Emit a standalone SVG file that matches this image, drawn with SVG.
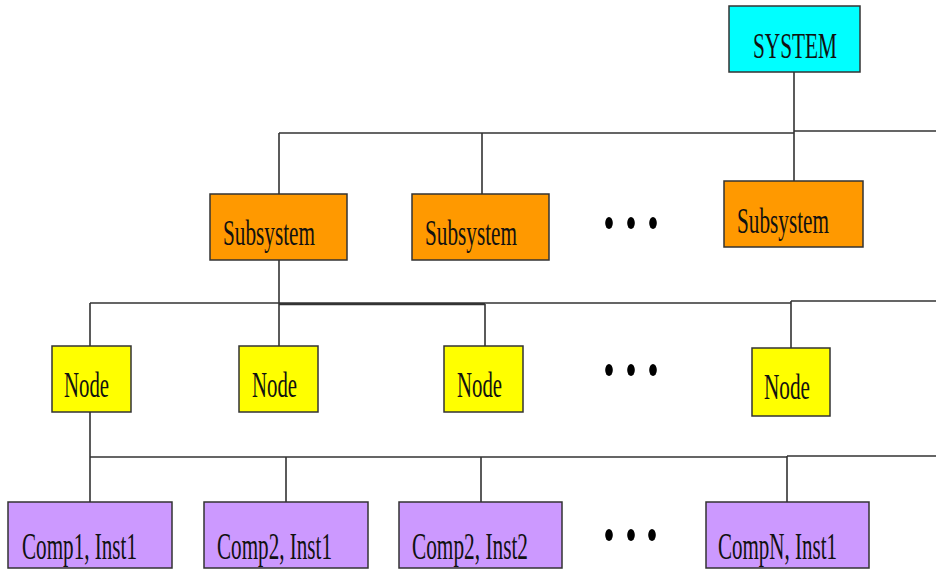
<svg xmlns="http://www.w3.org/2000/svg" width="936" height="569" viewBox="0 0 936 569">
  <style>
    .box { stroke: #333; stroke-width: 1.5; }
    .sys { fill: #00ffff; }
    .sub { fill: #ff9900; }
    .node { fill: #ffff00; }
    .comp { fill: #cc99ff; }
    .lbl { font-family: "Liberation Serif", "Times New Roman", serif; fill: #111; }
    .wire { stroke: #333; stroke-width: 1.6; fill: none; }
    .dot { fill: #000; }
  </style>
  <rect width="936" height="569" fill="#fff"/>

  <!-- connectors -->
  <g id="connectors">
    <path class="wire" d="M794 72 V131 M279 133 H794 M794 131 H936"/>
    <path class="wire" d="M279 133 V194 M482 133 V194 M794 131 V181"/>
    <path class="wire" d="M279 260 V304"/>
    <path class="wire" d="M90 303 H791 M279 304.5 H485 M791 301 H936"/>
    <path class="wire" d="M90 303 V346 M279 304 V346 M485 304 V346 M791 301 V348"/>
    <path class="wire" d="M90 412 V502 M90 457 H787 M787 456 H936"/>
    <path class="wire" d="M286 457 V502 M481 457 V502 M787 456 V502"/>
  </g>

  <!-- top level -->
  <g id="system">
    <rect class="box sys" x="729" y="6" width="131" height="66"/>
    <text class="lbl" x="753" y="58" font-size="35" textLength="84" lengthAdjust="spacingAndGlyphs">SYSTEM</text>
  </g>

  <!-- subsystems -->
  <g id="subsystem-1">
    <rect class="box sub" x="210" y="194" width="137" height="66"/>
    <text class="lbl" x="223" y="245" font-size="35" textLength="92" lengthAdjust="spacingAndGlyphs">Subsystem</text>
  </g>
  <g id="subsystem-2">
    <rect class="box sub" x="412" y="194" width="137" height="66"/>
    <text class="lbl" x="425" y="245" font-size="35" textLength="92" lengthAdjust="spacingAndGlyphs">Subsystem</text>
  </g>
  <g id="subsystem-n">
    <rect class="box sub" x="724" y="181" width="139" height="66"/>
    <text class="lbl" x="737" y="233" font-size="35" textLength="92" lengthAdjust="spacingAndGlyphs">Subsystem</text>
  </g>
  <g id="subsystem-ellipsis">
    <ellipse class="dot" cx="609" cy="223" rx="3.8" ry="6"/>
    <ellipse class="dot" cx="631" cy="223" rx="3.8" ry="6"/>
    <ellipse class="dot" cx="653" cy="223" rx="3.8" ry="6"/>
  </g>

  <!-- nodes -->
  <g id="node-1">
    <rect class="box node" x="52" y="346" width="79" height="66"/>
    <text class="lbl" x="64" y="397" font-size="35" textLength="45" lengthAdjust="spacingAndGlyphs">Node</text>
  </g>
  <g id="node-2">
    <rect class="box node" x="239" y="346" width="79" height="66"/>
    <text class="lbl" x="252" y="397" font-size="35" textLength="45" lengthAdjust="spacingAndGlyphs">Node</text>
  </g>
  <g id="node-3">
    <rect class="box node" x="444" y="346" width="79" height="66"/>
    <text class="lbl" x="457" y="397" font-size="35" textLength="45" lengthAdjust="spacingAndGlyphs">Node</text>
  </g>
  <g id="node-n">
    <rect class="box node" x="752" y="348" width="78" height="68"/>
    <text class="lbl" x="764" y="399" font-size="35" textLength="46" lengthAdjust="spacingAndGlyphs">Node</text>
  </g>
  <g id="node-ellipsis">
    <ellipse class="dot" cx="609" cy="370" rx="3.8" ry="6"/>
    <ellipse class="dot" cx="631" cy="370" rx="3.8" ry="6"/>
    <ellipse class="dot" cx="653" cy="370" rx="3.8" ry="6"/>
  </g>

  <!-- component instances -->
  <g id="comp1-inst1">
    <rect class="box comp" x="8" y="502" width="164" height="66"/>
    <text class="lbl" x="22" y="559" font-size="38" textLength="115" lengthAdjust="spacingAndGlyphs">Comp1, Inst1</text>
  </g>
  <g id="comp2-inst1">
    <rect class="box comp" x="204" y="502" width="164" height="66"/>
    <text class="lbl" x="217" y="559" font-size="38" textLength="115" lengthAdjust="spacingAndGlyphs">Comp2, Inst1</text>
  </g>
  <g id="comp2-inst2">
    <rect class="box comp" x="399" y="502" width="163" height="66"/>
    <text class="lbl" x="412" y="559" font-size="38" textLength="116" lengthAdjust="spacingAndGlyphs">Comp2, Inst2</text>
  </g>
  <g id="compn-inst1">
    <rect class="box comp" x="706" y="502" width="163" height="66"/>
    <text class="lbl" x="718" y="559" font-size="38" textLength="119" lengthAdjust="spacingAndGlyphs">CompN, Inst1</text>
  </g>
  <g id="comp-ellipsis">
    <ellipse class="dot" cx="609" cy="535" rx="3.8" ry="6"/>
    <ellipse class="dot" cx="631" cy="535" rx="3.8" ry="6"/>
    <ellipse class="dot" cx="652" cy="535" rx="3.8" ry="6"/>
  </g>
</svg>
